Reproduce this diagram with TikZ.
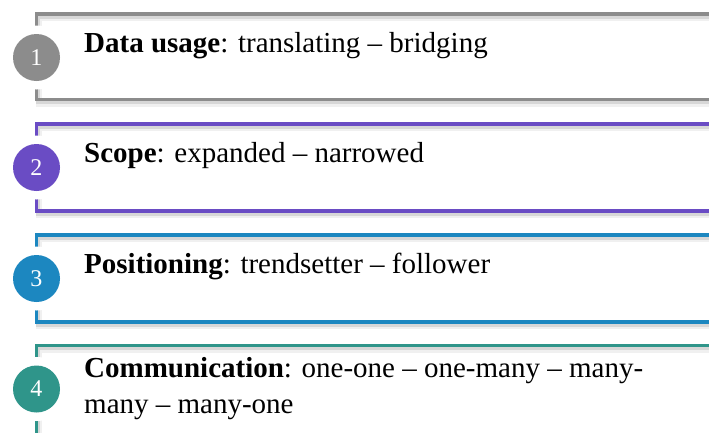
\documentclass[tikz,border=0pt]{standalone}
\usepackage{fontspec}
\setmainfont{Liberation Serif}
\definecolor{cgray}{HTML}{8C8C8C}
\definecolor{cpurple}{HTML}{6A4CC4}
\definecolor{cblue}{HTML}{1C87C0}
\definecolor{cteal}{HTML}{2F958A}
\tikzset{
  frameline/.style={line width=3.5pt, line cap=butt, line join=miter},
  frameshade/.style={line width=4pt, draw=black, opacity=0.10},
  badge/.style={circle, minimum size=47pt, inner sep=0pt, text=white,
    font=\fontsize{24}{24}\selectfont},
  gap/.style={circle, fill=white, minimum size=64pt, inner sep=0pt},
  itemtext/.style={anchor=base west, align=left, inner sep=0pt,
    font=\fontsize{29}{36}\selectfont}
}
% one framed step: #1 colour, #2 top, #3 bottom, #4 number, #5 name
\newcommand{\stepframe}[5]{%
  \draw[frameshade] (760,#2+2.5) -- (37.5,#2+2.5) -- (37.5,#3+2.5) -- (760,#3+2.5);
  \draw[frameshade, opacity=0.06, line width=6pt] (760,#2+4) -- (38.5,#2+4) -- (38.5,#3+4) -- (760,#3+4);
  \draw[frameline, draw=#1] (760,#2) -- (36.5,#2) -- (36.5,#3) -- (760,#3);
  \node[gap] (#5gap) at (36.5,{#2+43.5}) {};
  \node[badge, fill=#1] (#5) at (36.5,{#2+43.5}) {#4};
}
\begin{document}
\begin{tikzpicture}[x=1pt,y=-1pt]
\useasboundingbox[fill=white] (0,0) rectangle (709,432);
\stepframe{cgray}{14}{99.5}{1}{s1}
\stepframe{cpurple}{124}{211}{2}{s2}
\stepframe{cblue}{235}{322}{3}{s3}
\stepframe{cteal}{345.5}{432+100}{4}{s4}
\useasboundingbox (0,0) rectangle (709,432);
\node[itemtext] (t1) at (84,52) {\textbf{Data usage}: translating – bridging};
\node[itemtext] (t2) at (84,162.5) {\textbf{Scope}: expanded – narrowed};
\node[itemtext] (t3) at (84,273) {\textbf{Positioning}: trendsetter – follower};
\node[itemtext] (t4) at (84,413) {\textbf{Communication}: one-one – one-many – many-\\many – many-one};
\end{tikzpicture}
\end{document}
